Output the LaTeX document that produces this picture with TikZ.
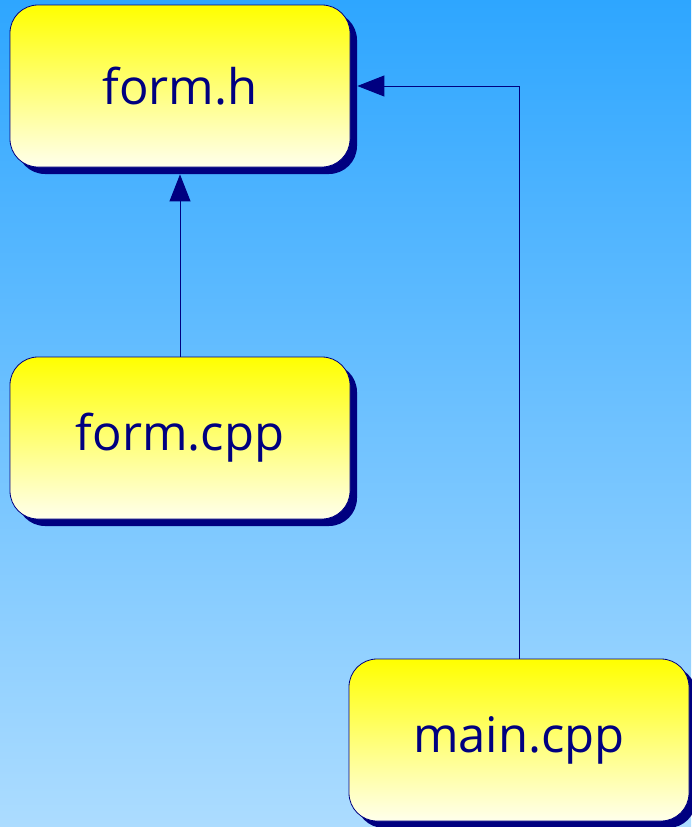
\documentclass[tikz,border=0pt]{standalone}
\usepackage{fontspec}
\setmainfont{Open Sans}
\usetikzlibrary{shadows,arrows.meta}
\definecolor{navyc}{RGB}{0,0,128}
\definecolor{bgtop}{RGB}{46,166,255}
\definecolor{bgbot}{RGB}{172,220,255}
\definecolor{ylbot}{RGB}{255,255,236}
\tikzset{
  filebox/.style={rectangle, rounded corners=28pt, draw=navyc, line width=0.8pt,
    minimum width=340pt, minimum height=162pt, top color=yellow, bottom color=ylbot,
    text=navyc, font=\fontsize{49}{58}\selectfont,
    drop shadow={shadow xshift=7pt, shadow yshift=-7pt, fill=navyc, opacity=1}},
  dep/.style={draw=navyc, line width=0.9pt, -{Triangle[length=27pt,width=21pt]}}
}
\begin{document}
\begin{tikzpicture}[x=1pt,y=-1pt]
  \shade[top color=bgtop, bottom color=bgbot] (0,0) rectangle (691,827);
  \useasboundingbox (0,0) rectangle (691,827);
  \node[filebox] (fh) at (180,86) {\raisebox{-3pt}{form.h}};
  \node[filebox] (fcpp) at (180,438) {\raisebox{-3pt}{form.cpp}};
  \node[filebox] (mcpp) at (519,740) {\raisebox{-3pt}{main.cpp}};
  \coordinate (fhs) at ([yshift=-7pt]fh.south);
  \coordinate (fhe) at ([xshift=7pt]fh.east);
  \draw[dep] (fcpp.north) -- (fhs);
  \draw[dep] (mcpp.north) |- (fhe);
\end{tikzpicture}
\end{document}
